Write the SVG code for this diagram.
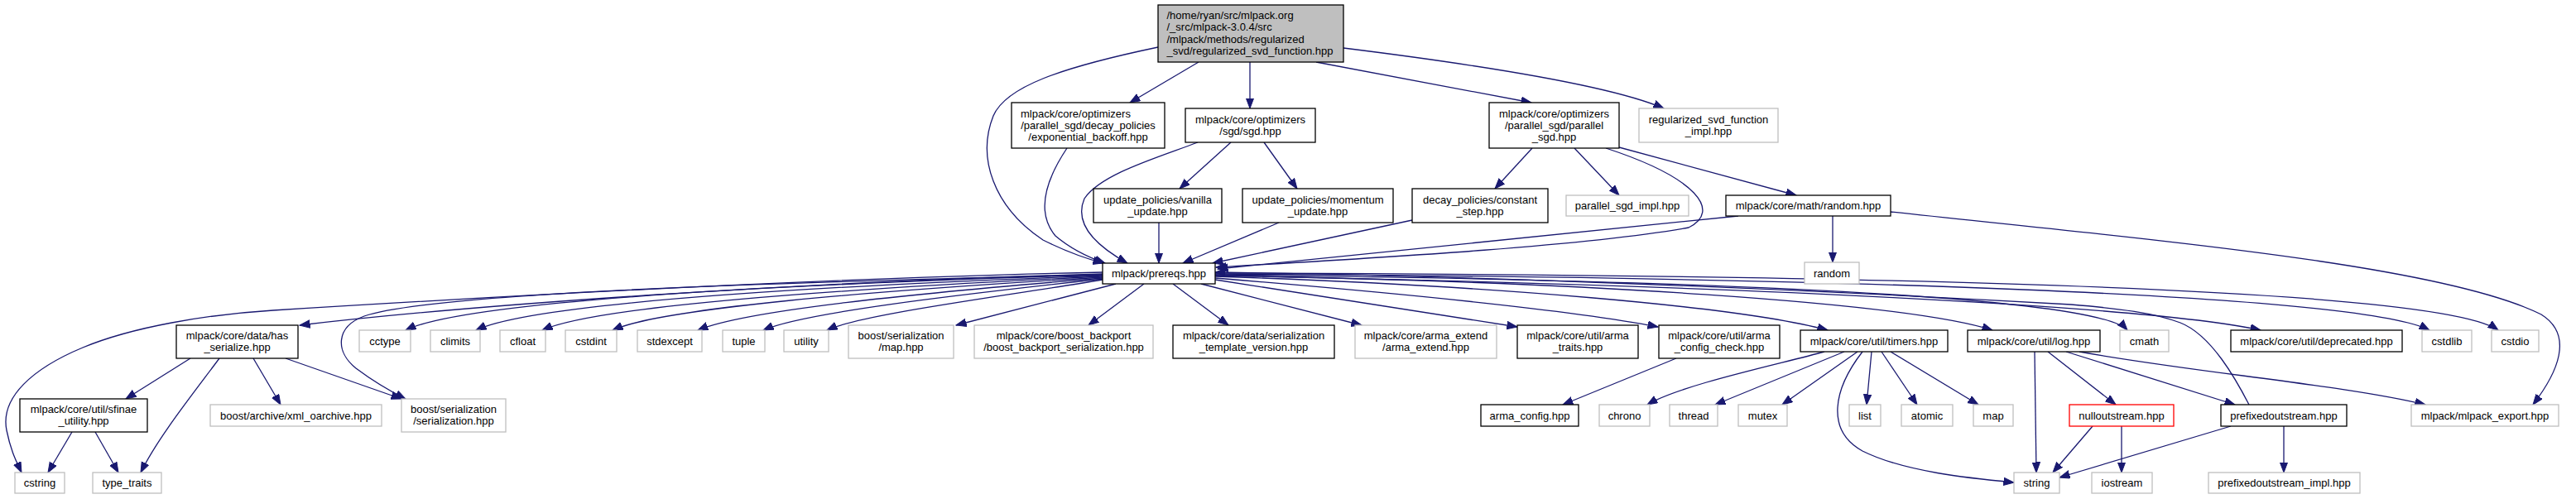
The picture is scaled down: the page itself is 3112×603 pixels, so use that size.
<svg xmlns="http://www.w3.org/2000/svg" width="3112" height="603" viewBox="0 0 3112 603">
<style>
rect{fill:#fff;stroke-width:1.3}
.b{stroke:#000}
.g{stroke:#bfbfbf}
.r{stroke:#ff0000}
.top{fill:#bfbfbf;stroke:#000}
text{font-family:"Liberation Sans",Arial,sans-serif;font-size:13px;fill:#000;text-anchor:middle}
.l{text-anchor:start}
.e path{fill:none;stroke:#191970;stroke-width:1.3;marker-end:url(#a)}
</style>
<defs>
<marker id="a" markerUnits="userSpaceOnUse" markerWidth="14" markerHeight="11" refX="12.5" refY="5" orient="auto">
<path d="M0,0.3 L12.5,5 L0,9.7 z" fill="#191970" stroke="#191970" stroke-width="1"/>
</marker>
</defs>
<rect x="0" y="0" width="3112" height="603" style="fill:#fff;stroke:none"/>
<g class="e" id="edges">
<path d="M1399,57 C1280,82 1215,105 1200,140 C1180,190 1200,250 1260,290 C1290,305 1310,312 1333,318"/>
<path d="M1448,75 L1365,124"/>
<path d="M1510,75 L1510,131"/>
<path d="M1590,75 L1850,124"/>
<path d="M1623,58 C1800,80 1950,105 2010,131"/>
<path d="M1289,179 C1265,215 1250,255 1275,285 C1295,302 1315,311 1335,318"/>
<path d="M1447,172 C1400,190 1330,210 1310,240 C1295,275 1335,303 1362,318"/>
<path d="M1487,172 L1425,228"/>
<path d="M1527,172 L1567,228"/>
<path d="M1851,179 L1806,228"/>
<path d="M1902,179 L1956,236"/>
<path d="M1956,178 L2170,236"/>
<path d="M1940,179 C2050,215 2080,255 2040,275 C1900,300 1600,315 1469,323"/>
<path d="M1400,269 L1400,318"/>
<path d="M1545,269 L1429,318"/>
<path d="M1706,266 L1465,318"/>
<path d="M2100,261 L1471,325"/>
<path d="M2214,261 L2214,317"/>
<path d="M2284,256 C2600,290 2950,320 3070,380 C3110,405 3090,450 3060,489"/>
<path d="M1332,329 C1050,335 700,352 330,375 C250,380 160,395 100,420 C40,445 0,480 8,520 C13,545 20,558 26,571"/>
<path d="M1332,331 C1000,340 600,365 362,393"/>
<path d="M1332,332 C900,342 520,355 440,382 C405,395 405,425 430,445 C450,460 470,472 490,482"/>
<path d="M1332,332 C900,345 560,365 490,399"/>
<path d="M1332,333 C950,347 640,368 575,399"/>
<path d="M1332,334 C1000,350 720,370 655,399"/>
<path d="M1332,335 C1050,352 800,372 740,399"/>
<path d="M1332,336 C1100,355 900,375 843,399"/>
<path d="M1332,337 C1150,357 970,378 922,399"/>
<path d="M1332,338 C1200,360 1040,380 999,399"/>
<path d="M1348,343 L1155,393"/>
<path d="M1382,343 L1315,393"/>
<path d="M1417,343 L1484,393"/>
<path d="M1451,343 L1645,393"/>
<path d="M1468,338 L1833,395"/>
<path d="M1468,336 C1700,355 1900,375 2003,395"/>
<path d="M1468,334 C1800,345 2100,370 2208,399"/>
<path d="M1468,333 C1900,340 2300,365 2407,399"/>
<path d="M1468,332 C2200,340 2540,365 2570,399"/>
<path d="M1468,333 C2100,345 2600,370 2731,399"/>
<path d="M1468,331 C2200,335 2850,355 2935,399"/>
<path d="M1468,330 C2300,332 2950,350 3018,399"/>
<path d="M2717,489 C2702,460 2672,405 2634,390 C2602,378 2562,373 2502,368 C2100,345 1700,332 1468,329"/>
<path d="M230,433 L152,482"/>
<path d="M265,433 C230,480 190,530 170,571"/>
<path d="M306,433 L339,489"/>
<path d="M345,433 L485,482"/>
<path d="M87,522 L58,571"/>
<path d="M115,522 L143,571"/>
<path d="M2025,433 L1888,489"/>
<path d="M2204,425 C2150,440 2030,465 1990,489"/>
<path d="M2228,425 L2072,489"/>
<path d="M2244,425 L2153,489"/>
<path d="M2261,425 L2255,489"/>
<path d="M2273,425 L2316,489"/>
<path d="M2284,425 L2390,489"/>
<path d="M2250,425 C2215,470 2205,520 2250,545 C2300,570 2380,578 2433,583"/>
<path d="M2458,425 L2460,571"/>
<path d="M2474,425 L2556,489"/>
<path d="M2496,425 L2700,489"/>
<path d="M2512,425 C2650,450 2830,465 2930,489"/>
<path d="M2528,515 L2480,571"/>
<path d="M2563,515 L2563,571"/>
<path d="M2695,515 L2488,577"/>
<path d="M2759,515 L2759,571"/>
</g>
<g id="n_top"><rect class="top" x="1399" y="6" width="224" height="69"/><text class="l" x="1409.5" y="22.5">/home/ryan/src/mlpack.org</text><text class="l" x="1409.5" y="37">/_src/mlpack-3.0.4/src</text><text class="l" x="1409.5" y="51.5">/mlpack/methods/regularized</text><text class="l" x="1409.5" y="66">_svd/regularized_svd_function.hpp</text></g>
<g id="n_exp"><rect class="b" x="1222" y="124" width="185" height="55"/><text class="l" x="1233" y="141.5">mlpack/core/optimizers</text><text x="1314.5" y="155.5">/parallel_sgd/decay_policies</text><text x="1314.5" y="169.5">/exponential_backoff.hpp</text></g>
<g id="n_sgd"><rect class="b" x="1432" y="131" width="157" height="41"/><text x="1510.5" y="148.5">mlpack/core/optimizers</text><text x="1510.5" y="163">/sgd/sgd.hpp</text></g>
<g id="n_psgd"><rect class="b" x="1799" y="124" width="157" height="55"/><text x="1877.5" y="141.5">mlpack/core/optimizers</text><text x="1877.5" y="155.5">/parallel_sgd/parallel</text><text x="1877.5" y="169.5">_sgd.hpp</text></g>
<g id="n_impl"><rect class="g" x="1980" y="131" width="168" height="41"/><text x="2064" y="148.5">regularized_svd_function</text><text x="2064" y="163">_impl.hpp</text></g>
<g id="n_vanilla"><rect class="b" x="1321" y="228" width="155" height="41"/><text x="1398.5" y="245.5">update_policies/vanilla</text><text x="1398.5" y="259.5">_update.hpp</text></g>
<g id="n_momentum"><rect class="b" x="1501" y="228" width="182" height="41"/><text x="1592" y="245.5">update_policies/momentum</text><text x="1592" y="259.5">_update.hpp</text></g>
<g id="n_constant"><rect class="b" x="1706" y="228" width="164" height="41"/><text x="1788" y="245.5">decay_policies/constant</text><text x="1788" y="259.5">_step.hpp</text></g>
<g id="n_psgdimpl"><rect class="g" x="1892" y="236" width="148" height="25"/><text x="1966" y="252.5">parallel_sgd_impl.hpp</text></g>
<g id="n_randomhpp"><rect class="b" x="2085" y="236" width="199" height="25"/><text x="2184.5" y="252.5">mlpack/core/math/random.hpp</text></g>
<g id="n_prereqs"><rect class="b" x="1332" y="318" width="136" height="25"/><text x="1400" y="335">mlpack/prereqs.hpp</text></g>
<g id="n_random"><rect class="g" x="2180" y="317" width="66" height="26"/><text x="2213" y="334.5">random</text></g>
<g id="n_hasser"><rect class="b" x="213" y="393" width="147" height="40"/><text x="286.5" y="409.5">mlpack/core/data/has</text><text x="286.5" y="423.5">_serialize.hpp</text></g>
<g id="n_cctype"><rect class="g" x="434" y="399" width="62" height="26"/><text x="465" y="416.5">cctype</text></g>
<g id="n_climits"><rect class="g" x="520" y="399" width="60" height="26"/><text x="550" y="416.5">climits</text></g>
<g id="n_cfloat"><rect class="g" x="604" y="399" width="55" height="26"/><text x="631.5" y="416.5">cfloat</text></g>
<g id="n_cstdint"><rect class="g" x="683" y="399" width="62" height="26"/><text x="714" y="416.5">cstdint</text></g>
<g id="n_stdexcept"><rect class="g" x="770" y="399" width="78" height="26"/><text x="809" y="416.5">stdexcept</text></g>
<g id="n_tuple"><rect class="g" x="873" y="399" width="51" height="26"/><text x="898.5" y="416.5">tuple</text></g>
<g id="n_utility"><rect class="g" x="947" y="399" width="54" height="26"/><text x="974" y="416.5">utility</text></g>
<g id="n_bsmap"><rect class="g" x="1025" y="393" width="127" height="40"/><text x="1088.5" y="409.5">boost/serialization</text><text x="1088.5" y="423.5">/map.hpp</text></g>
<g id="n_backport"><rect class="g" x="1177" y="393" width="216" height="40"/><text x="1285" y="409.5">mlpack/core/boost_backport</text><text x="1285" y="423.5">/boost_backport_serialization.hpp</text></g>
<g id="n_stv"><rect class="b" x="1417" y="393" width="195" height="40"/><text x="1514.5" y="409.5">mlpack/core/data/serialization</text><text x="1514.5" y="423.5">_template_version.hpp</text></g>
<g id="n_armaext"><rect class="g" x="1637" y="393" width="171" height="40"/><text x="1722.5" y="409.5">mlpack/core/arma_extend</text><text x="1722.5" y="423.5">/arma_extend.hpp</text></g>
<g id="n_armatraits"><rect class="b" x="1833" y="393" width="146" height="40"/><text x="1906" y="409.5">mlpack/core/util/arma</text><text x="1906" y="423.5">_traits.hpp</text></g>
<g id="n_armacc"><rect class="b" x="2004" y="393" width="146" height="40"/><text x="2077" y="409.5">mlpack/core/util/arma</text><text x="2077" y="423.5">_config_check.hpp</text></g>
<g id="n_timers"><rect class="b" x="2175" y="399" width="178" height="26"/><text x="2264" y="416.5">mlpack/core/util/timers.hpp</text></g>
<g id="n_log"><rect class="b" x="2377" y="399" width="160" height="26"/><text x="2457" y="416.5">mlpack/core/util/log.hpp</text></g>
<g id="n_cmath"><rect class="g" x="2561" y="399" width="59" height="26"/><text x="2590.5" y="416.5">cmath</text></g>
<g id="n_deprecated"><rect class="b" x="2695" y="399" width="207" height="26"/><text x="2798.5" y="416.5">mlpack/core/util/deprecated.hpp</text></g>
<g id="n_cstdlib"><rect class="g" x="2926" y="399" width="60" height="26"/><text x="2956" y="416.5">cstdlib</text></g>
<g id="n_cstdio"><rect class="g" x="3010" y="399" width="57" height="26"/><text x="3038.5" y="416.5">cstdio</text></g>
<g id="n_sfinae"><rect class="b" x="24" y="482" width="154" height="40"/><text x="101" y="498.5">mlpack/core/util/sfinae</text><text x="101" y="512.5">_utility.hpp</text></g>
<g id="n_xml"><rect class="g" x="254" y="489" width="207" height="26"/><text x="357.5" y="506.5">boost/archive/xml_oarchive.hpp</text></g>
<g id="n_bser"><rect class="g" x="485" y="482" width="126" height="40"/><text x="548" y="498.5">boost/serialization</text><text x="548" y="512.5">/serialization.hpp</text></g>
<g id="n_armaconfig"><rect class="b" x="1789" y="489" width="118" height="26"/><text x="1848" y="506.5">arma_config.hpp</text></g>
<g id="n_chrono"><rect class="g" x="1932" y="489" width="61" height="26"/><text x="1962.5" y="506.5">chrono</text></g>
<g id="n_thread"><rect class="g" x="2017" y="489" width="58" height="26"/><text x="2046" y="506.5">thread</text></g>
<g id="n_mutex"><rect class="g" x="2100" y="489" width="59" height="26"/><text x="2129.5" y="506.5">mutex</text></g>
<g id="n_list"><rect class="g" x="2234" y="489" width="38" height="26"/><text x="2253" y="506.5">list</text></g>
<g id="n_atomic"><rect class="g" x="2297" y="489" width="62" height="26"/><text x="2328" y="506.5">atomic</text></g>
<g id="n_map"><rect class="g" x="2384" y="489" width="48" height="26"/><text x="2408" y="506.5">map</text></g>
<g id="n_null"><rect class="r" x="2500" y="489" width="126" height="26"/><text x="2563" y="506.5">nulloutstream.hpp</text></g>
<g id="n_prefixed"><rect class="b" x="2683" y="489" width="152" height="26"/><text x="2759" y="506.5">prefixedoutstream.hpp</text></g>
<g id="n_export"><rect class="g" x="2913" y="489" width="178" height="26"/><text x="3002" y="506.5">mlpack/mlpack_export.hpp</text></g>
<g id="n_cstring"><rect class="g" x="18" y="571" width="60" height="25"/><text x="48" y="588">cstring</text></g>
<g id="n_typetraits"><rect class="g" x="112" y="571" width="83" height="25"/><text x="153.5" y="588">type_traits</text></g>
<g id="n_string"><rect class="g" x="2433" y="571" width="55" height="25"/><text x="2460.5" y="588">string</text></g>
<g id="n_iostream"><rect class="g" x="2527" y="571" width="73" height="25"/><text x="2563.5" y="588">iostream</text></g>
<g id="n_pimpl"><rect class="g" x="2668" y="571" width="183" height="25"/><text x="2759.5" y="588">prefixedoutstream_impl.hpp</text></g>
</svg>
